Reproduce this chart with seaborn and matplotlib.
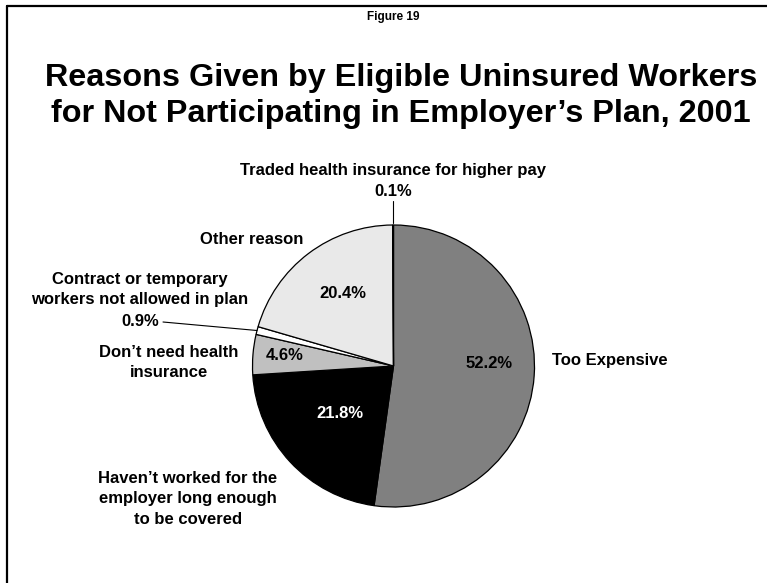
import numpy as np
import matplotlib
matplotlib.use("Agg")
import matplotlib.pyplot as plt
from matplotlib.lines import Line2D
import seaborn as sns

# Survey results, clockwise from 12 o'clock
reasons = [
    "Too Expensive",
    "Haven\u2019t worked for the\nemployer long enough\nto be covered",
    "Don\u2019t need health\ninsurance",
    "Contract or temporary\nworkers not allowed in plan",
    "Other reason",
    "Traded health insurance for higher pay",
]
shares = [52.2, 21.8, 4.6, 0.9, 20.4, 0.1]
slice_colors = ["#808080", "#000000", "#c0c0c0", "#ffffff", "#e9e9e9", "#ffffff"]

fig_title = "Reasons Given by Eligible Uninsured Workers\nfor Not Participating in Employer\u2019s Plan, 2001"
fig_label = "Figure 19"

sns.set_style("white")
plt.rcParams["font.family"] = ["Liberation Sans", "DejaVu Sans"]
plt.rcParams["text.color"] = "black"

W, H = 767, 583
fig = plt.figure(figsize=(W / 100, H / 100), dpi=100)
ax = fig.add_axes([0, 0, 1, 1])


def Y(y):
    # convert a top-down pixel row to axis units
    return H - y


cx, cy, r = 393.5, Y(366), 141
wedges, _ = ax.pie(
    shares,
    colors=slice_colors,
    startangle=90,
    counterclock=False,
    radius=r,
    center=(cx, cy),
    wedgeprops=dict(edgecolor="black", linewidth=0.9),
    frame=True,
)
ax.set_xlim(0, W)
ax.set_ylim(0, H)
ax.set_aspect("equal")
ax.axis("off")


def edge_point(w):
    ang = np.deg2rad((w.theta1 + w.theta2) / 2)
    return cx + r * np.cos(ang), cy + r * np.sin(ang)


lab = dict(fontsize=12, fontweight="bold", ha="center", va="center",
           linespacing=1.45, color="black")

# category names
ax.text(552, Y(361), reasons[0], **{**lab, "ha": "left"})
ax.text(188, Y(499), reasons[1], **lab)
ax.text(169, Y(362.5), reasons[2], **lab)
ax.text(140, Y(289.5), reasons[3], **lab)
ax.text(252, Y(239), reasons[4], **lab)
ax.text(cx, Y(170), reasons[5], **lab)

# values inside the larger slices
ax.text(489, Y(363), f"{shares[0]:.1f}%", **lab)
ax.text(340, Y(413), f"{shares[1]:.1f}%", **{**lab, "color": "white"})
ax.text(285, Y(356), f"{shares[2]:.1f}%", **lab)
ax.text(343, Y(294), f"{shares[4]:.1f}%", **lab)

# values for the thin slices, with leader lines
ax.text(140, Y(322), f"{shares[3]:.1f}%", **lab)
px, py = edge_point(wedges[3])
ax.add_line(Line2D([163, px], [Y(322), py], color="black", linewidth=0.8))

ax.text(cx, Y(192), f"{shares[5]:.1f}%", **lab)
px, py = edge_point(wedges[5])
ax.add_line(Line2D([px, px], [Y(201), py + 2], color="black", linewidth=0.8))

# headings
ax.text(cx, Y(17), fig_label, fontsize=8.5, fontweight="bold", ha="center",
        va="center", family=["Liberation Sans Narrow", "Liberation Sans"])
ax.text(401, Y(96), fig_title, fontsize=23.3, fontweight="bold", ha="center",
        va="center", linespacing=1.3)

# frame along the top and left edges
fig.add_artist(Line2D([7 / W, 1], [1 - 6 / H, 1 - 6 / H], color="black",
                      linewidth=1.6, transform=fig.transFigure))
fig.add_artist(Line2D([7 / W, 7 / W], [0, 1 - 6 / H], color="black",
                      linewidth=1.6, transform=fig.transFigure))

fig.savefig("out.png", dpi=100, facecolor="white")
